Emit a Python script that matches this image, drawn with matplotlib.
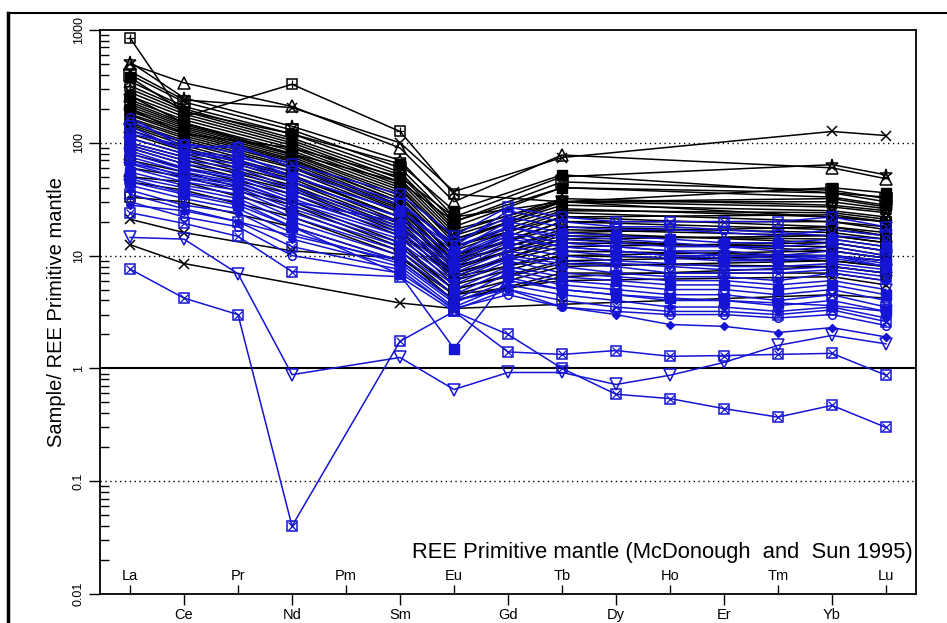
import numpy as np
import matplotlib.pyplot as plt
from matplotlib.lines import Line2D

plt.rcParams['font.family'] = ['Liberation Sans', 'DejaVu Sans']

# element order on the x axis (Pm has no data)
elements = ["La", "Ce", "Pr", "Nd", "Pm", "Sm", "Eu", "Gd", "Tb",
            "Dy", "Ho", "Er", "Tm", "Yb", "Lu"]

# black samples: only these elements were analysed
black_elements = ["La", "Ce", "Nd", "Sm", "Eu", "Tb", "Yb", "Lu"]
black_data = [
    [850, 170, 330, 126, 35, 30, 22, 20],
    [500, 340, 210, 90, 30, 78, 60, 48],
    [430, 240, 205, 100, 37, 74, 126, 116],
    [520, 250, 140, 70, 22, 50, 64, 52],
    [400, 230, 130, 60, 20, 45, 38, 32],
    [380, 190, 120, 65, 25, 52, 36, 33],
    [350, 210, 120, 55, 18, 40, 36, 30],
    [320, 200, 110, 52, 17, 30, 30, 26],
    [300, 190, 105, 48, 16, 32, 28, 25],
    [280, 180, 100, 45, 15, 30, 32, 27],
    [260, 150, 80, 45, 20, 40, 33, 28],
    [260, 170, 95, 42, 14, 28, 25, 22],
    [240, 160, 90, 40, 13, 30, 27, 24],
    [230, 150, 85, 38, 14, 26, 22, 20],
    [220, 145, 80, 36, 12, 25, 24, 21],
    [210, 140, 78, 34, 11, 24, 20, 18],
    [200, 120, 90, 50, 22, 30, 40, 36],
    [200, 135, 75, 32, 12, 22, 23, 20],
    [190, 130, 72, 30, 10, 22, 18, 16],
    [180, 125, 70, 30, 9.5, 20, 20, 17],
    [175, 120, 68, 28, 10, 18, 16, 14],
    [165, 115, 65, 27, 9, 20, 17, 15],
    [160, 110, 62, 26, 8.5, 17, 15, 13],
    [150, 105, 60, 25, 9, 16, 18, 15],
    [145, 100, 56, 24, 8, 15, 14, 12],
    [140, 95, 52, 22, 7.5, 16, 13, 11],
    [130, 90, 50, 22, 8, 14, 15, 13],
    [120, 85, 48, 20, 7, 13, 12, 10],
    [110, 80, 45, 19, 6.5, 14, 11, 9.5],
    [100, 75, 42, 18, 7, 12, 13, 11],
    [95, 70, 40, 17, 6, 11, 10, 9],
    [90, 65, 38, 16, 6.5, 10, 11, 9.5],
    [80, 60, 35, 15, 5.5, 10, 9, 8],
    [70, 55, 30, 13, 5, 9, 10, 9],
    [60, 50, 28, 12, 5, 8.5, 8, 7],
    [50, 45, 25, 11, 4.5, 8, 9, 8],
    [45, 38, 22, 10, 4, 7, 7, 6],
    [33, 30, 18, 9, 4, 6.5, 8, 7],
    [21, 16, 11, 9.5, 4.5, 6, 6.5, 5.5],
    [12.5, 8.5, np.nan, 3.8, 3.4, 3.7, 4.5, 4.2],
]
black_markers = ["sq", "^", "x", "*", "s", "sf", "x", "sq", "*", "x",
                 "sf", "^", "v", "sq", "x", "o", "sf", "*", "sq", "x",
                 "v", "^", "sq", "x", "sf", "*", "sq", "x", "v", "sq",
                 "x", "sf", "^", "sq", "x", "*", "v", "sq", "x", "x"]

# blue samples: full REE (no Pm)
blue_elements = ["La", "Ce", "Pr", "Nd", "Sm", "Eu", "Gd", "Tb",
                 "Dy", "Ho", "Er", "Tm", "Yb", "Lu"]
blue_data = [
    [7.6, 4.2, 3.0, 0.04, 1.74, 3.2, 2.0, 1.0, 0.59, 0.54, 0.44, 0.37, 0.47, 0.30],
    [14.5, 14, 6.9, 0.88, 1.25, 0.65, 0.92, 0.92, 0.72, 0.87, 1.13, 1.6, 1.96, 1.65],
    [24, 19.3, 14.8, 7.2, 6.5, 3.2, 1.4, 1.33, 1.44, 1.28, 1.3, 1.33, 1.36, 0.87],
    [45, 35, 28, 18, 6.8, 1.5, 6.4, 5, 4.5, 4.2, 4, 3.8, 3.6, 3.2],
    [28, 25, 20, 15, 9, 4, 5, 3.5, 3, 2.45, 2.36, 2.08, 2.3, 1.9],
    [170, 90, 95, 60, 30, 12, 25, 20, 18, 18, 17, 16, 15, 14],
    [120, 95, 90, 65, 35, 15, 27, 22, 20, 20, 20, 20, 22, 18],
    [130, 85, 75, 55, 28, 13, 22, 18, 17, 17, 16, 15, 17, 15],
    [155, 100, 80, 50, 25, 12, 18, 15, 14, 13, 12, 12, 13, 11],
    [110, 80, 70, 50, 25, 11, 20, 16, 15, 14, 13, 13, 14, 12],
    [140, 85, 70, 45, 22, 10, 16, 13, 12, 11, 10, 10, 11, 9.5],
    [100, 75, 65, 45, 22, 10, 18, 14, 13, 12, 12, 11, 12, 10],
    [95, 70, 60, 40, 20, 9, 16, 13, 12, 11, 11, 10, 10, 9],
    [66, 52, 44, 30, 20, 9, 15, 12, 11, 10, 9.5, 9, 10, 8],
    [90, 65, 55, 38, 18, 8.5, 14, 12, 11, 10, 10, 9.5, 10, 8.5],
    [85, 60, 50, 35, 17, 8, 13, 11, 10, 9.5, 9, 9, 9.5, 8],
    [80, 58, 48, 32, 16, 7.5, 12, 10, 9, 8.5, 8, 8, 8.5, 7.5],
    [75, 55, 45, 30, 15, 7, 11, 9, 8.5, 8, 7.5, 7.5, 8, 7],
    [70, 50, 42, 28, 14, 6.5, 10, 8.5, 8, 7, 7, 7, 7.5, 6.5],
    [65, 48, 40, 26, 13, 6, 9.5, 8, 7, 6.5, 6.5, 6, 7, 6],
    [60, 45, 38, 24, 12, 5.5, 9, 7, 6.5, 6, 6, 5.5, 6, 5],
    [55, 42, 35, 22, 11, 5, 8, 6.5, 6, 5.5, 5.5, 5, 5.5, 4.5],
    [50, 40, 32, 20, 10, 4.5, 7.5, 6, 5.5, 5, 5, 4.5, 5, 4],
    [48, 36, 30, 18, 9, 4, 7, 5.5, 5, 4.5, 4.5, 4, 4.5, 3.5],
    [42, 32, 26, 16, 8.5, 3.8, 6, 5, 4.5, 4, 4, 3.6, 4, 3.2],
    [38, 28, 24, 14, 8, 3.5, 5.5, 4.5, 4, 3.5, 3.5, 3.2, 3.5, 2.8],
    [35, 26, 20, 12, 7.5, 3.3, 5, 4, 3.5, 3.2, 3.2, 3, 3.3, 2.6],
    [30, 22, 18, 10, 7, 3.4, 4.5, 3.5, 3.2, 3, 3, 2.8, 3, 2.4],
]
blue_markers = ["sq", "v", "sq", "sf", "D", "o", "sq", "v", "o", "sf",
                "sq", "v", "D", "o", "sq", "sf", "v", "o", "sq", "D",
                "v", "sf", "o", "sq", "v", "D", "sq", "o"]


def draw(ax, names, vals, mk, color):
    x = np.array([elements.index(n) for n in names], dtype=float)
    y = np.array(vals, dtype=float)
    ok = ~np.isnan(y)
    x, y = x[ok], y[ok]
    ax.plot(x, y, color=color, lw=1.1, zorder=2)
    if mk == "sq":
        ax.plot(x, y, ls="none", marker="s", ms=7.5, mfc="none", mec=color, mew=1.1, zorder=3)
        inner = "+" if color == "black" else "x"
        ax.plot(x, y, ls="none", marker=inner, ms=5.5, mec=color, mew=0.9, zorder=3)
    elif mk == "sf":
        ax.plot(x, y, ls="none", marker="s", ms=6.5, mfc=color, mec=color, zorder=3)
    elif mk in ("x", "+"):
        ax.plot(x, y, ls="none", marker=mk, ms=7.5, mec=color, mew=1.1, zorder=3)
    elif mk == "D":
        ax.plot(x, y, ls="none", marker="D", ms=4.5, mfc=color, mec=color, zorder=3)
    elif mk == "o":
        ax.plot(x, y, ls="none", marker="o", ms=5.5, mfc="none", mec=color, mew=1.1, zorder=3)
    else:
        ax.plot(x, y, ls="none", marker=mk, ms=8.5, mfc="none", mec=color, mew=1.1, zorder=3)


fig = plt.figure(figsize=(9.47, 6.23), dpi=100)
ax = fig.add_axes([100 / 947, 29 / 623, 816 / 947, 564 / 623])

for vals, mk in zip(black_data, black_markers):
    draw(ax, black_elements, vals, mk, "black")
for vals, mk in zip(blue_data, blue_markers):
    draw(ax, blue_elements, vals, mk, "#1414d2")

ax.set_yscale("log")
ax.set_ylim(0.01, 1000)
ax.set_xlim(-0.556, 14.556)

for lev in (100, 10, 0.1):
    ax.axhline(lev, color="black", lw=1, ls=(0, (1, 2.5)), zorder=1)
ax.axhline(1, color="black", lw=1.5, zorder=1)

ax.set_yticks([0.01, 0.1, 1, 10, 100, 1000])
ax.set_yticklabels(["0.01", "0.1", "1", "10", "100", "1000"], rotation=90, va="center")
ax.tick_params(axis="y", which="major", direction="out", length=8, width=1, labelsize=9, pad=3)
ax.tick_params(axis="y", which="minor", direction="in", length=6.5, width=1)

odd = list(range(1, 15, 2))
even = list(range(0, 15, 2))
ax.set_xticks(odd, [elements[i] for i in odd])
ax.set_xticks(even, [elements[i] for i in even], minor=True)
ax.tick_params(axis="x", which="major", direction="out", length=8, width=1, labelsize=10.5, pad=2)
ax.tick_params(axis="x", which="minor", direction="in", length=6.5, width=1, labelsize=10.5, pad=-18)

for s in ax.spines.values():
    s.set_linewidth(1.3)

fig.text(57 / 947, 1 - 312 / 623, "Sample/ REE Primitive mantle", rotation=90,
         ha="center", va="center", fontsize=14.5)
ax.text(0.9963, 0.0727, "REE Primitive mantle (McDonough  and  Sun 1995)",
        transform=ax.transAxes, ha="right", va="center", fontsize=15.8)

# outer frame pieces
fig.add_artist(Line2D([8 / 947, 1], [1 - 13 / 623] * 2, color="black", lw=1.5,
                      transform=fig.transFigure))
fig.add_artist(Line2D([8 / 947] * 2, [0, 1 - 13 / 623], color="black", lw=2.5,
                      transform=fig.transFigure))

fig.savefig("out.png", dpi=100)
